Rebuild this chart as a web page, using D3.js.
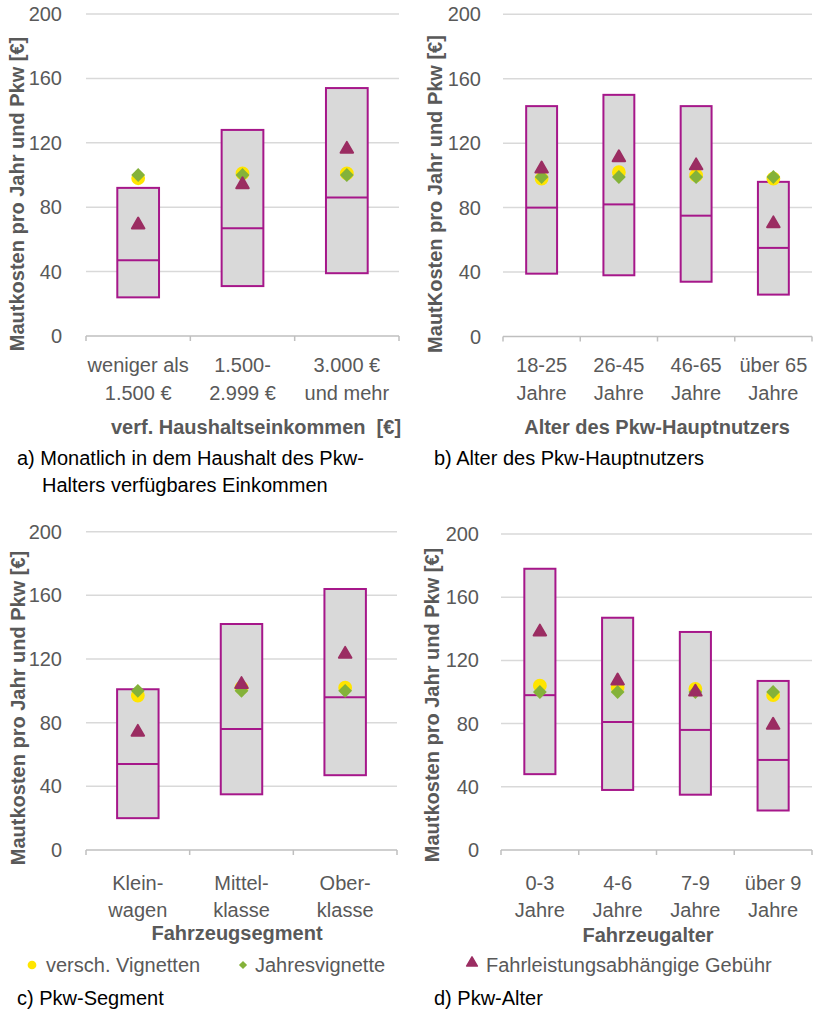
<!DOCTYPE html>
<html>
<head>
<meta charset="utf-8">
<script src="https://cdn.jsdelivr.net/npm/d3@7"></script>
<style>
  body { margin: 0; background: #fff; }
  svg { font-family: "Liberation Sans", Arial, sans-serif; }
</style>
</head>
<body>
<div id="chart"></div>
<script>
// a) verf. Haushaltseinkommen
var incomeCats = [["weniger als", "1.500 €"], ["1.500-", "2.999 €"], ["3.000 €", "und mehr"]];
var incomeMax = [92, 128, 154];
var incomeMedian = [47, 67, 86];
var incomeMin = [24, 31, 39];
var incomeVign = [98, 101, 101];
var incomeJahr = [100, 100, 100];
var incomeFahr = [70, 95, 117];

// b) Alter des Pkw-Hauptnutzers
var ageCats = [["18-25", "Jahre"], ["26-45", "Jahre"], ["46-65", "Jahre"], ["über 65", "Jahre"]];
var ageMax = [143, 150, 143, 96];
var ageMedian = [80, 82, 75, 55];
var ageMin = [39, 38, 34, 26];
var ageVign = [98, 102, 100, 98];
var ageJahr = [99, 99, 99, 99];
var ageFahr = [105, 112, 107, 71];

// c) Pkw-Segment
var segCats = [["Klein-", "wagen"], ["Mittel-", "klasse"], ["Ober-", "klasse"]];
var segMax = [101, 142, 164];
var segMedian = [54, 76, 96];
var segMin = [20, 35, 47];
var segVign = [97, 102, 102];
var segJahr = [100, 100, 100];
var segFahr = [75, 105, 124];

// d) Pkw-Alter
var carCats = [["0-3", "Jahre"], ["4-6", "Jahre"], ["7-9", "Jahre"], ["über 9", "Jahre"]];
var carMax = [178, 147, 138, 107];
var carMedian = [98, 81, 76, 57];
var carMin = [48, 38, 35, 25];
var carVign = [104, 103, 102, 98];
var carJahr = [100, 100, 100, 100];
var carFahr = [139, 108, 101, 80];

var yTicks = [0, 40, 80, 120, 160, 200];
var legendLabels = ["versch. Vignetten", "Jahresvignette", "Fahrleistungsabhängige Gebühr"];

var boxColor = "#a6178a", triColor = "#9b2d62", yellow = "#ffe500", green = "#84b23a";
var textGray = "#595959";

var panels = [
  { cats: incomeCats, max: incomeMax, med: incomeMedian, min: incomeMin, vign: incomeVign, jahr: incomeJahr, fahr: incomeFahr,
    x0: 86, x1: 399, y0: 336, y1: 14, ytx: 62, ytitleX: 17, ytitleY: 194, ytitle: "Mautkosten pro Jahr und Pkw [€]",
    xtitle: "verf. Haushaltseinkommen  [€]", xtitleX: 256, xtitleY: 427, lab1: 365, lab2: 393 },
  { cats: ageCats, max: ageMax, med: ageMedian, min: ageMin, vign: ageVign, jahr: ageJahr, fahr: ageFahr,
    x0: 503, x1: 812, y0: 336.5, y1: 14.3, ytx: 481, ytitleX: 435, ytitleY: 194, ytitle: "MautKosten pro Jahr und Pkw [€]",
    xtitle: "Alter des Pkw-Hauptnutzers", xtitleX: 657, xtitleY: 427, lab1: 365, lab2: 393 },
  { cats: segCats, max: segMax, med: segMedian, min: segMin, vign: segVign, jahr: segJahr, fahr: segFahr,
    x0: 86, x1: 397, y0: 850, y1: 531.7, ytx: 62, ytitleX: 18, ytitleY: 708, ytitle: "Mautkosten pro Jahr und Pkw [€]",
    xtitle: "Fahrzeugsegment", xtitleX: 237, xtitleY: 933, lab1: 883, lab2: 910 },
  { cats: carCats, max: carMax, med: carMedian, min: carMin, vign: carVign, jahr: carJahr, fahr: carFahr,
    x0: 501, x1: 812, y0: 850, y1: 534, ytx: 479, ytitleX: 432, ytitleY: 705, ytitle: "Mautkosten pro Jahr und Pkw [€]",
    xtitle: "Fahrzeugalter", xtitleX: 648, xtitleY: 935, lab1: 883, lab2: 910 }
];

var svg = d3.select("#chart").append("svg")
  .attr("width", 818)
  .attr("height", 1011);

var circleSym = d3.symbol().type(d3.symbolCircle).size(150);
var diamondSym = d3.symbol().type(d3.symbolSquare).size(95);
var triSym = d3.symbol().type(d3.symbolTriangle).size(68);

panels.forEach(function(p) {
  var g = svg.append("g");
  var n = p.cats.length;
  var idx = d3.range(n);

  var x = d3.scaleBand().domain(idx).range([p.x0, p.x1]).paddingInner(0.6).paddingOuter(0.3);
  var y = d3.scaleLinear().domain([0, 200]).range([p.y0, p.y1]);
  var step = (p.x1 - p.x0) / n;

  // gridlines
  g.selectAll(".grid").data(yTicks.slice(1)).enter().append("line")
    .attr("x1", p.x0).attr("x2", p.x1)
    .attr("y1", d => y(d)).attr("y2", d => y(d))
    .attr("stroke", "#d9d9d9").attr("stroke-width", 1.5);

  // baseline with category ticks
  g.append("line")
    .attr("x1", p.x0).attr("x2", p.x1)
    .attr("y1", y(0)).attr("y2", y(0))
    .attr("stroke", "#bfbfbf").attr("stroke-width", 1.5);
  g.selectAll(".tk").data(d3.range(n + 1)).enter().append("line")
    .attr("x1", d => p.x0 + d * step).attr("x2", d => p.x0 + d * step)
    .attr("y1", y(0)).attr("y2", y(0) + 5)
    .attr("stroke", "#bfbfbf").attr("stroke-width", 1.5);

  // y tick labels
  g.selectAll(".yl").data(yTicks).enter().append("text")
    .attr("x", p.ytx).attr("y", d => y(d)).attr("dy", "0.35em")
    .attr("text-anchor", "end").attr("font-size", 20).attr("fill", textGray)
    .text(d => d);

  // y title
  g.append("text")
    .attr("transform", "translate(" + p.ytitleX + "," + p.ytitleY + ") rotate(-90)")
    .attr("dy", "0.35em").attr("text-anchor", "middle")
    .attr("font-size", 20).attr("font-weight", "bold").attr("fill", textGray)
    .text(p.ytitle);

  // boxes
  g.selectAll(".box").data(idx).enter().append("rect")
    .attr("x", d => x(d)).attr("width", x.bandwidth())
    .attr("y", d => y(p.max[d])).attr("height", d => y(p.min[d]) - y(p.max[d]))
    .attr("fill", "#d9d9d9").attr("stroke", boxColor).attr("stroke-width", 2);
  g.selectAll(".med").data(idx).enter().append("line")
    .attr("x1", d => x(d)).attr("x2", d => x(d) + x.bandwidth())
    .attr("y1", d => y(p.med[d])).attr("y2", d => y(p.med[d]))
    .attr("stroke", boxColor).attr("stroke-width", 2);

  var cx = d => x(d) + x.bandwidth() / 2;

  g.selectAll(".vg").data(idx).enter().append("path")
    .attr("d", circleSym)
    .attr("transform", d => "translate(" + cx(d) + "," + y(p.vign[d]) + ")")
    .attr("fill", yellow);
  g.selectAll(".jv").data(idx).enter().append("path")
    .attr("d", diamondSym)
    .attr("transform", d => "translate(" + cx(d) + "," + y(p.jahr[d]) + ") rotate(45)")
    .attr("fill", green);
  g.selectAll(".fa").data(idx).enter().append("path")
    .attr("d", triSym)
    .attr("transform", d => "translate(" + cx(d) + "," + (y(p.fahr[d]) + 1.5) + ")")
    .attr("fill", triColor).attr("stroke", triColor).attr("stroke-width", 2).attr("stroke-linejoin", "round");

  // category labels
  var lab = g.selectAll(".cl").data(idx).enter().append("text")
    .attr("text-anchor", "middle").attr("font-size", 20).attr("fill", textGray);
  lab.append("tspan").attr("x", cx).attr("y", p.lab1).attr("dy", "0.35em").text(d => p.cats[d][0]);
  lab.append("tspan").attr("x", cx).attr("y", p.lab2).attr("dy", "0.35em").text(d => p.cats[d][1]);

  // x title
  g.append("text")
    .attr("x", p.xtitleX).attr("y", p.xtitleY).attr("dy", "0.35em")
    .attr("text-anchor", "middle").attr("font-size", 20).attr("font-weight", "bold").attr("fill", textGray)
    .attr("xml:space", "preserve").style("white-space", "pre")
    .text(p.xtitle);
});

// legend
var leg = svg.append("g");
var legY = 965;
leg.append("path").attr("d", d3.symbol().type(d3.symbolCircle).size(60))
  .attr("transform", "translate(32," + legY + ")").attr("fill", yellow);
leg.append("text").attr("x", 46).attr("y", legY).attr("dy", "0.35em")
  .attr("font-size", 20).attr("fill", textGray).text(legendLabels[0]);
leg.append("path").attr("d", d3.symbol().type(d3.symbolSquare).size(34))
  .attr("transform", "translate(243," + legY + ") rotate(45)").attr("fill", green);
leg.append("text").attr("x", 255).attr("y", legY).attr("dy", "0.35em")
  .attr("font-size", 20).attr("fill", textGray).text(legendLabels[1]);
leg.append("path").attr("d", d3.symbol().type(d3.symbolTriangle).size(50))
  .attr("transform", "translate(472," + (legY - 2) + ")")
  .attr("fill", triColor).attr("stroke", triColor).attr("stroke-width", 1.5).attr("stroke-linejoin", "round");
leg.append("text").attr("x", 486).attr("y", legY).attr("dy", "0.35em")
  .attr("font-size", 20).attr("fill", textGray).text(legendLabels[2]);

// captions
var caps = [
  { t: "a) Monatlich in dem Haushalt des Pkw-", x: 17, y: 458 },
  { t: "Halters verfügbares Einkommen", x: 42, y: 485 },
  { t: "b) Alter des Pkw-Hauptnutzers", x: 434, y: 458 },
  { t: "c) Pkw-Segment", x: 17, y: 998 },
  { t: "d) Pkw-Alter", x: 434, y: 998 }
];
svg.selectAll(".cap").data(caps).enter().append("text")
  .attr("x", d => d.x).attr("y", d => d.y).attr("dy", "0.35em")
  .attr("font-size", 20).attr("fill", "#000")
  .text(d => d.t);
</script>
</body>
</html>
